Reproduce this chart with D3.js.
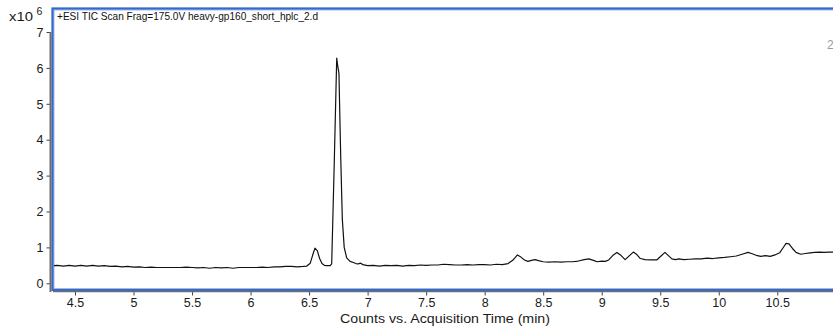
<!DOCTYPE html>
<html>
<head>
<meta charset="utf-8">
<script src="https://cdn.jsdelivr.net/npm/d3@7"></script>
<style>
  html, body { margin: 0; padding: 0; background: #fff; }
  svg { display: block; font-family: "Liberation Sans", Arial, sans-serif; }
</style>
</head>
<body>
<svg id="chart" width="833" height="326"></svg>
<script>
// Total ion chromatogram, counts in units of 1e6 vs. acquisition time (min)
const times = [
  4.31, 4.35, 4.40, 4.45, 4.50, 4.55, 4.60, 4.65, 4.70, 4.75, 4.80, 4.85, 4.90, 4.95,
  5.00, 5.05, 5.10, 5.15, 5.20, 5.25, 5.30, 5.35, 5.40, 5.45, 5.50, 5.55, 5.60, 5.65,
  5.70, 5.75, 5.80, 5.85, 5.90, 5.95, 6.00, 6.05, 6.10, 6.15, 6.20, 6.25, 6.30, 6.35,
  6.40, 6.45, 6.48, 6.51, 6.53, 6.55, 6.57, 6.59, 6.61, 6.63, 6.65, 6.68, 6.693, 6.715,
  6.736, 6.745, 6.755, 6.77, 6.784, 6.80, 6.821, 6.85, 6.878, 6.90, 6.92, 6.94, 6.96,
  7.00, 7.05, 7.10, 7.15, 7.20, 7.25, 7.30, 7.35, 7.40, 7.45, 7.50, 7.55, 7.60, 7.65,
  7.70, 7.75, 7.80, 7.85, 7.90, 7.95, 8.00, 8.05, 8.10, 8.15, 8.20, 8.24, 8.28, 8.31,
  8.34, 8.37, 8.40, 8.43, 8.46, 8.50, 8.55, 8.60, 8.65, 8.70, 8.75, 8.80, 8.85, 8.89,
  8.93, 8.96, 9.00, 9.03, 9.06, 9.10, 9.13, 9.16, 9.20, 9.23, 9.27, 9.30, 9.33, 9.37,
  9.42, 9.47, 9.50, 9.54, 9.57, 9.60, 9.63, 9.66, 9.70, 9.75, 9.80, 9.85, 9.90, 9.95,
  10.00, 10.05, 10.10, 10.15, 10.20, 10.25, 10.28, 10.32, 10.36, 10.40, 10.44, 10.48,
  10.52, 10.55, 10.575, 10.60, 10.63, 10.66, 10.70, 10.74, 10.78, 10.82, 10.86, 10.90,
  10.94, 10.98, 11.00
];
const counts = [
  0.49, 0.50, 0.48, 0.50, 0.48, 0.50, 0.48, 0.50, 0.48, 0.49, 0.47, 0.48, 0.46, 0.47,
  0.45, 0.46, 0.44, 0.45, 0.44, 0.44, 0.44, 0.44, 0.44, 0.45, 0.44, 0.43, 0.44, 0.42,
  0.44, 0.43, 0.44, 0.42, 0.44, 0.44, 0.44, 0.44, 0.45, 0.44, 0.46, 0.46, 0.47, 0.47,
  0.46, 0.47, 0.48, 0.56, 0.78, 0.98, 0.91, 0.69, 0.55, 0.50, 0.49, 0.49, 0.54, 3.35,
  6.27, 6.05, 5.85, 3.55, 1.78, 1.00, 0.71, 0.61, 0.58, 0.55, 0.54, 0.56, 0.52,
  0.49, 0.50, 0.48, 0.50, 0.49, 0.50, 0.48, 0.50, 0.49, 0.51, 0.50, 0.51, 0.51, 0.53,
  0.52, 0.51, 0.51, 0.52, 0.51, 0.52, 0.52, 0.51, 0.53, 0.52, 0.55, 0.64, 0.79, 0.73,
  0.65, 0.61, 0.64, 0.66, 0.63, 0.60, 0.59, 0.60, 0.59, 0.60, 0.60, 0.62, 0.66, 0.68,
  0.64, 0.60, 0.62, 0.61, 0.65, 0.79, 0.86, 0.79, 0.66, 0.75, 0.87, 0.80, 0.69, 0.66,
  0.65, 0.65, 0.74, 0.86, 0.77, 0.68, 0.66, 0.68, 0.66, 0.67, 0.68, 0.68, 0.70, 0.69,
  0.71, 0.72, 0.74, 0.76, 0.81, 0.86, 0.83, 0.78, 0.75, 0.77, 0.75, 0.79,
  0.85, 0.99, 1.11, 1.10, 0.97, 0.86, 0.81, 0.83, 0.85, 0.86, 0.87, 0.86,
  0.87, 0.87, 0.86
];
const xTicks = [4.5, 5, 5.5, 6, 6.5, 7, 7.5, 8, 8.5, 9, 9.5, 10, 10.5];
const yTicks = [0, 1, 2, 3, 4, 5, 6, 7];
const titleText = "+ESI TIC Scan Frag=175.0V heavy-gp160_short_hplc_2.d";
const xAxisTitle = "Counts vs. Acquisition Time (min)";

const svg = d3.select("#chart");
const frame = { left: 53, top: 9, right: 853, bottom: 289.5 };

const x = d3.scaleLinear().domain([4.312, 11.147]).range([frame.left, frame.right]);
const y = d3.scaleLinear().domain([0, 7]).range([283.3, 32]);

// plot frame
svg.append("rect")
  .attr("x", frame.left).attr("y", frame.top)
  .attr("width", frame.right - frame.left).attr("height", frame.bottom - frame.top)
  .attr("fill", "none").attr("stroke", "#9db9e6").attr("stroke-width", 3);
svg.append("rect")
  .attr("x", frame.left - 0.5).attr("y", frame.top - 0.5)
  .attr("width", frame.right - frame.left + 1).attr("height", frame.bottom - frame.top + 1)
  .attr("fill", "none").attr("stroke", "#3468cc").attr("stroke-width", 2);

// clip for the trace
svg.append("clipPath").attr("id", "plotClip")
  .append("rect")
  .attr("x", frame.left + 1).attr("y", frame.top + 1)
  .attr("width", frame.right - frame.left - 2).attr("height", frame.bottom - frame.top - 2);

const data = times.map((t, i) => ({ t, v: counts[i] }));
const line = d3.line().x(d => x(d.t)).y(d => y(d.v));
svg.append("path")
  .datum(data)
  .attr("clip-path", "url(#plotClip)")
  .attr("fill", "none")
  .attr("stroke", "#111")
  .attr("stroke-width", 1.2)
  .attr("stroke-linejoin", "round")
  .attr("d", line);

// y axis
const yAxis = svg.append("g").attr("transform", "translate(50.5,0)")
  .call(d3.axisLeft(y).tickValues(yTicks).tickSize(4).tickPadding(3).tickFormat(d3.format("d")));
yAxis.select(".domain").remove();
yAxis.append("line").attr("x1", 0).attr("x2", 0).attr("y1", y(7)).attr("y2", 292)
  .attr("stroke", "#6e6e6e").attr("stroke-width", 2);
yAxis.selectAll(".tick line").attr("stroke", "#444");
yAxis.selectAll(".tick text").attr("font-size", 12.5).attr("fill", "#1a1a1a").attr("dy", "0.34em");

// x axis
const xAxis = svg.append("g").attr("transform", "translate(0,291.5)")
  .call(d3.axisBottom(x).tickValues(xTicks).tickSize(4).tickPadding(3).tickFormat(d => String(d)));
xAxis.select(".domain").remove();
xAxis.append("line").attr("x1", frame.left).attr("x2", frame.right).attr("y1", 0).attr("y2", 0)
  .attr("stroke", "#6e6e6e").attr("stroke-width", 1.5);
xAxis.selectAll(".tick line").attr("stroke", "#444");
xAxis.selectAll(".tick text").attr("font-size", 12.5).attr("fill", "#1a1a1a");

// axis title
svg.append("text")
  .attr("x", 445).attr("y", 323)
  .attr("text-anchor", "middle")
  .attr("font-size", 12).attr("fill", "#1a1a1a")
  .attr("textLength", 210).attr("lengthAdjust", "spacingAndGlyphs")
  .text(xAxisTitle);

// scale factor label
svg.append("text").attr("x", 9).attr("y", 21).attr("font-size", 12.5).attr("fill", "#1a1a1a")
  .attr("textLength", 24).attr("lengthAdjust", "spacingAndGlyphs").text("x10");
svg.append("text").attr("x", 36.5).attr("y", 15).attr("font-size", 10.5).attr("fill", "#1a1a1a").text("6");

// trace title
svg.append("text")
  .attr("x", 57).attr("y", 20)
  .attr("font-size", 11.5).attr("fill", "#111")
  .attr("textLength", 261).attr("lengthAdjust", "spacingAndGlyphs")
  .text(titleText);

// partially visible label at the right edge
svg.append("text")
  .attr("x", 827).attr("y", 49)
  .attr("font-size", 12).attr("fill", "#9a9a9a")
  .text("2");
</script>
</body>
</html>
